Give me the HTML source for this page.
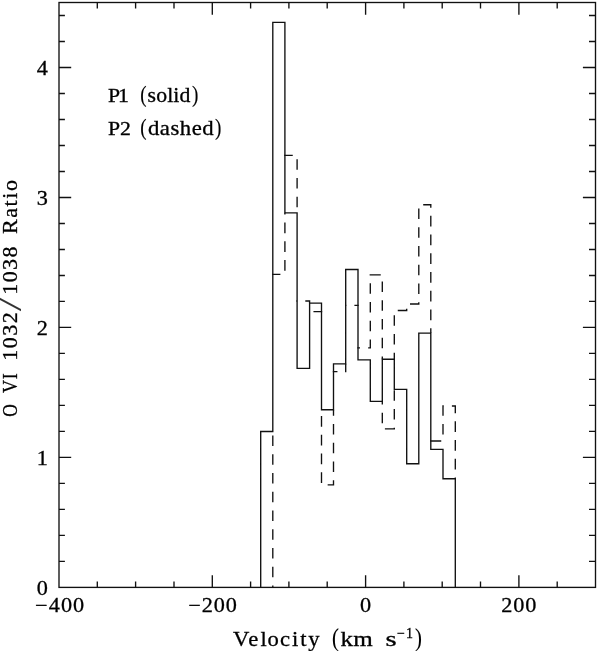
<!DOCTYPE html>
<html><head><meta charset="utf-8"><title>O VI ratio</title>
<style>html,body{margin:0;padding:0;background:#fff}svg{display:block}</style></head>
<body>
<svg width="600" height="651" viewBox="0 0 600 651">
<rect width="600" height="651" fill="#fff"/>
<g fill="none" stroke="#111" stroke-width="1.35" stroke-linecap="butt" stroke-linejoin="miter">
<rect x="59.0" y="2.5" width="536.5" height="584.9"/>
<path d="M97.3 587.4 v-5.9 M97.3 2.5 v5.9 M135.6 587.4 v-5.9 M135.6 2.5 v5.9 M174.0 587.4 v-5.9 M174.0 2.5 v5.9 M212.3 587.4 v-12.2 M212.3 2.5 v12.2 M250.6 587.4 v-5.9 M250.6 2.5 v5.9 M288.9 587.4 v-5.9 M288.9 2.5 v5.9 M327.2 587.4 v-5.9 M327.2 2.5 v5.9 M365.6 587.4 v-12.2 M365.6 2.5 v12.2 M403.9 587.4 v-5.9 M403.9 2.5 v5.9 M442.2 587.4 v-5.9 M442.2 2.5 v5.9 M480.5 587.4 v-5.9 M480.5 2.5 v5.9 M518.9 587.4 v-12.2 M518.9 2.5 v12.2 M557.2 587.4 v-5.9 M557.2 2.5 v5.9 M59.0 561.4 h5.9 M595.5 561.4 h-6.5 M59.0 535.4 h5.9 M595.5 535.4 h-6.5 M59.0 509.4 h5.9 M595.5 509.4 h-6.5 M59.0 483.4 h5.9 M595.5 483.4 h-6.5 M59.0 457.4 h12.2 M595.5 457.4 h-12.6 M59.0 431.4 h5.9 M595.5 431.4 h-6.5 M59.0 405.4 h5.9 M595.5 405.4 h-6.5 M59.0 379.4 h5.9 M595.5 379.4 h-6.5 M59.0 353.4 h5.9 M595.5 353.4 h-6.5 M59.0 327.4 h12.2 M595.5 327.4 h-12.6 M59.0 301.4 h5.9 M595.5 301.4 h-6.5 M59.0 275.5 h5.9 M595.5 275.5 h-6.5 M59.0 249.5 h5.9 M595.5 249.5 h-6.5 M59.0 223.5 h5.9 M595.5 223.5 h-6.5 M59.0 197.5 h12.2 M595.5 197.5 h-12.6 M59.0 171.5 h5.9 M595.5 171.5 h-6.5 M59.0 145.5 h5.9 M595.5 145.5 h-6.5 M59.0 119.5 h5.9 M595.5 119.5 h-6.5 M59.0 93.5 h5.9 M595.5 93.5 h-6.5 M59.0 67.5 h12.2 M595.5 67.5 h-12.6 M59.0 41.5 h5.9 M595.5 41.5 h-6.5 M59.0 15.5 h5.9 M595.5 15.5 h-6.5"/>
<path d="M260.7 587.4 L260.7 431.5 L272.8 431.5 L272.8 22.4 L284.9 22.4 L284.9 212.8 L297.1 212.8 L297.1 368.3 L309.6 368.3 L309.6 303.1 L321.5 303.1 L321.5 409.7 L333.5 409.7 L333.5 363.8 L345.7 363.8 L345.7 269.5 L358.0 269.5 L358.0 359.8 L370.3 359.8 L370.3 401.4 L382.3 401.4 L382.3 359.2 L394.3 359.2 L394.3 389.4 L406.7 389.4 L406.7 463.7 L418.8 463.7 L418.8 333.1 L430.8 333.1 L430.8 449.3 L443.0 449.3 L443.0 478.7 L455.3 478.7 L455.3 587.4"/>
<path d="M272.80 585.45 L272.80 588.07 M272.80 566.70 L272.80 577.30 M272.80 547.95 L272.80 558.55 M272.80 529.20 L272.80 539.80 M272.80 510.45 L272.80 521.05 M272.80 491.70 L272.80 502.30 M272.80 472.95 L272.80 483.55 M272.80 454.20 L272.80 464.80 M272.80 435.45 L272.80 446.05 M272.12 274.30 L280.40 274.30 M284.90 260.05 L284.90 270.65 M284.90 241.30 L284.90 251.90 M284.90 222.55 L284.90 233.15 M284.90 212.80 L284.90 214.40 M284.22 155.40 L292.75 155.40 M297.10 159.20 L297.10 169.80 M297.10 177.95 L297.10 188.55 M297.10 196.70 L297.10 207.30 M296.43 301.00 L297.15 301.00 M305.30 301.00 L310.28 301.00 M309.60 300.32 L309.60 303.10 M313.45 311.60 L322.18 311.60 M321.50 416.05 L321.50 426.65 M321.50 434.80 L321.50 445.40 M321.50 453.55 L321.50 464.15 M321.50 472.30 L321.50 482.90 M327.65 484.90 L334.18 484.90 M333.50 480.15 L333.50 485.57 M333.50 461.40 L333.50 472.00 M333.50 442.65 L333.50 453.25 M333.50 423.90 L333.50 434.50 M333.50 409.70 L333.50 415.75 M332.82 371.60 L337.45 371.60 M345.60 371.60 L346.37 371.60 M345.70 363.80 L345.70 372.28 M345.02 305.40 L346.25 305.40 M354.40 305.40 L358.67 305.40 M357.32 347.90 L360.00 347.90 M368.15 347.90 L370.97 347.90 M370.30 339.45 L370.30 348.57 M370.30 320.70 L370.30 331.30 M370.30 301.95 L370.30 312.55 M370.30 283.20 L370.30 293.80 M370.30 274.22 L370.30 275.05 M369.62 274.90 L380.75 274.90 M382.30 281.50 L382.30 292.10 M382.30 300.25 L382.30 310.85 M382.30 319.00 L382.30 329.60 M382.30 337.75 L382.30 348.35 M382.30 356.50 L382.30 359.20 M382.30 401.40 L382.30 404.60 M382.30 412.75 L382.30 423.35 M384.90 428.90 L394.98 428.90 M394.30 427.70 L394.30 429.57 M394.30 408.95 L394.30 419.55 M394.30 390.20 L394.30 400.80 M394.30 352.70 L394.30 359.20 M394.30 333.95 L394.30 344.55 M394.30 315.20 L394.30 325.80 M397.75 310.50 L407.38 310.50 M406.70 308.85 L406.70 311.18 M410.00 304.00 L419.47 304.00 M418.80 302.20 L418.80 304.68 M418.80 283.45 L418.80 294.05 M418.80 264.70 L418.80 275.30 M418.80 245.95 L418.80 256.55 M418.80 227.20 L418.80 237.80 M418.80 208.45 L418.80 219.05 M423.20 204.70 L431.48 204.70 M430.80 204.02 L430.80 207.70 M430.80 215.85 L430.80 226.45 M430.80 234.60 L430.80 245.20 M430.80 253.35 L430.80 263.95 M430.80 272.10 L430.80 282.70 M430.80 290.85 L430.80 301.45 M430.80 309.60 L430.80 320.20 M430.80 328.35 L430.80 333.10 M430.12 441.00 L441.25 441.00 M443.00 424.00 L443.00 434.60 M443.00 405.32 L443.00 415.85 M442.32 406.00 L443.75 406.00 M451.90 406.00 L455.97 406.00 M455.30 405.32 L455.30 413.20 M455.30 421.35 L455.30 431.95 M455.30 440.10 L455.30 450.70 M455.30 458.85 L455.30 469.45 M455.30 477.60 L455.30 478.70"/>
</g>
<text transform="translate(42.2 594.5) scale(1.100 1)" font-size="20.2" text-anchor="middle"  font-family="'Liberation Serif', serif" fill="#000" stroke="#000"  stroke-width="0.30">0</text>
<text transform="translate(42.2 464.5) scale(1.100 1)" font-size="20.2" text-anchor="middle"  font-family="'Liberation Serif', serif" fill="#000" stroke="#000"  stroke-width="0.30">1</text>
<text transform="translate(42.2 334.5) scale(1.100 1)" font-size="20.2" text-anchor="middle"  font-family="'Liberation Serif', serif" fill="#000" stroke="#000"  stroke-width="0.30">2</text>
<text transform="translate(42.2 204.6) scale(1.100 1)" font-size="20.2" text-anchor="middle"  font-family="'Liberation Serif', serif" fill="#000" stroke="#000"  stroke-width="0.30">3</text>
<text transform="translate(42.2 74.6) scale(1.100 1)" font-size="20.2" text-anchor="middle"  font-family="'Liberation Serif', serif" fill="#000" stroke="#000"  stroke-width="0.30">4</text>
<text transform="translate(59.6 611.6) scale(1.100 1)" font-size="20.2" text-anchor="middle" textLength="44.8" lengthAdjust="spacing" font-family="'Liberation Serif', serif" fill="#000" stroke="#000"  stroke-width="0.30">−400</text>
<text transform="translate(212.6 611.6) scale(1.100 1)" font-size="20.2" text-anchor="middle" textLength="44.2" lengthAdjust="spacing" font-family="'Liberation Serif', serif" fill="#000" stroke="#000"  stroke-width="0.30">−200</text>
<text transform="translate(365.6 611.6) scale(1.100 1)" font-size="20.2" text-anchor="middle"  font-family="'Liberation Serif', serif" fill="#000" stroke="#000"  stroke-width="0.30">0</text>
<text transform="translate(518.8 611.6) scale(1.100 1)" font-size="20.2" text-anchor="middle" textLength="31.8" lengthAdjust="spacing" font-family="'Liberation Serif', serif" fill="#000" stroke="#000"  stroke-width="0.30">200</text>
<text transform="translate(108.0 102.0) scale(1.100 1)" font-size="19.8" text-anchor="start" textLength="19.1" lengthAdjust="spacing" font-family="'Liberation Serif', serif" fill="#000" stroke="#000"  stroke-width="0.30">P1</text>
<text transform="translate(140.2 102.0) scale(0.820 1)" font-size="23.3" text-anchor="start"  font-family="'Liberation Serif', serif" fill="#000" stroke="#000"  stroke-width="0.15">(</text>
<text transform="translate(147.6 102.0) scale(1.070 1)" font-size="20.3" text-anchor="start" textLength="40.0" lengthAdjust="spacing" font-family="'Liberation Serif', serif" fill="#000" stroke="#000"  stroke-width="0.30">solid</text>
<text transform="translate(191.9 102.0) scale(0.820 1)" font-size="23.3" text-anchor="start"  font-family="'Liberation Serif', serif" fill="#000" stroke="#000"  stroke-width="0.15">)</text>
<text transform="translate(108.0 134.6) scale(1.100 1)" font-size="19.8" text-anchor="start"  font-family="'Liberation Serif', serif" fill="#000" stroke="#000"  stroke-width="0.30">P2</text>
<text transform="translate(140.2 134.6) scale(0.820 1)" font-size="23.3" text-anchor="start"  font-family="'Liberation Serif', serif" fill="#000" stroke="#000"  stroke-width="0.15">(</text>
<text transform="translate(147.9 134.6) scale(1.120 1)" font-size="20.3" text-anchor="start" textLength="58.7" lengthAdjust="spacing" font-family="'Liberation Serif', serif" fill="#000" stroke="#000"  stroke-width="0.30">dashed</text>
<text transform="translate(214.9 134.6) scale(0.820 1)" font-size="23.3" text-anchor="start"  font-family="'Liberation Serif', serif" fill="#000" stroke="#000"  stroke-width="0.15">)</text>
<text transform="translate(233.00 645.80) scale(1.030 1)" x="0.00 14.85 26.60 33.50 45.63 57.38 65.24 73.01" font-size="22.0" font-family="'Liberation Serif', serif" fill="#000" stroke="#000" stroke-width="0.30">Velocity</text>
<text transform="translate(332.0 645.8) scale(0.800 1)" font-size="26.0" text-anchor="start"  font-family="'Liberation Serif', serif" fill="#000" stroke="#000"  stroke-width="0.10">(</text>
<text transform="translate(340.6 645.8) scale(1.140 1)" font-size="22.0" text-anchor="start"  font-family="'Liberation Serif', serif" fill="#000" stroke="#000"  stroke-width="0.30">km</text>
<text transform="translate(385.4 645.8) scale(1.300 1)" font-size="22.0" text-anchor="start"  font-family="'Liberation Serif', serif" fill="#000" stroke="#000"  stroke-width="0.30">s</text>
<text transform="translate(397.0 637.6) scale(1.000 1)" font-size="14.0" text-anchor="start" textLength="16.0" lengthAdjust="spacing" font-family="'Liberation Serif', serif" fill="#000" stroke="#000"  stroke-width="0.30">−1</text>
<text transform="translate(415.0 645.8) scale(0.800 1)" font-size="26.0" text-anchor="start"  font-family="'Liberation Serif', serif" fill="#000" stroke="#000"  stroke-width="0.10">)</text>
<g transform="translate(17.3 0) rotate(-90)">
<text transform="translate(-416.8 0.0) scale(0.790 1)" font-size="22.0" text-anchor="start"  font-family="'Liberation Serif', serif" fill="#000" stroke="#000"  stroke-width="0.30">O</text>
<text transform="translate(-392.90 0.00) scale(0.820 1)" x="0.00 16.59" font-size="22.0" font-family="'Liberation Serif', serif" fill="#000" stroke="#000" stroke-width="0.30">VI</text>
<text transform="translate(-360.7 0.0) scale(1.000 1)" font-size="22.0" text-anchor="start" textLength="48.4" lengthAdjust="spacing" font-family="'Liberation Serif', serif" fill="#000" stroke="#000"  stroke-width="0.30">1032</text>
<text transform="translate(-311.2 3.3) scale(1.600 1)" font-size="30.5" text-anchor="start"  font-family="'Liberation Serif', serif" fill="#000" stroke="#000" opacity="0.8" stroke-width="0.00">/</text>
<text transform="translate(-294.7 0.0) scale(1.000 1)" font-size="22.0" text-anchor="start" textLength="48.2" lengthAdjust="spacing" font-family="'Liberation Serif', serif" fill="#000" stroke="#000"  stroke-width="0.30">1038</text>
<text transform="translate(-234.0 0.0) scale(1.000 1)" font-size="22.0" text-anchor="start" textLength="54.0" lengthAdjust="spacing" font-family="'Liberation Serif', serif" fill="#000" stroke="#000"  stroke-width="0.30">Ratio</text>
</g>
</svg>
</body></html>
